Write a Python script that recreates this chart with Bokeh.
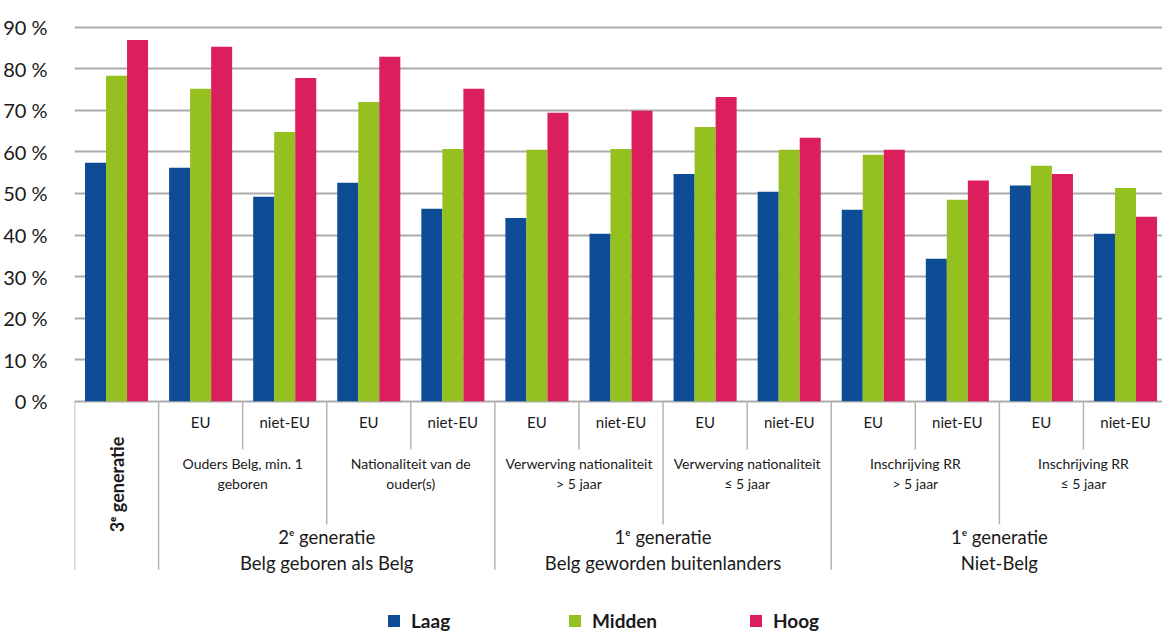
from math import pi
from bokeh.plotting import figure
from bokeh.models import Range1d, FixedTicker, Legend, LegendItem, ColumnDataSource
from bokeh.core.properties import value
from bokeh.embed import file_html
from bokeh.resources import INLINE

# ---- data ----
sub_labels = ["3ᵉ generatie", "EU", "niet-EU", "EU", "niet-EU", "EU", "niet-EU",
              "EU", "niet-EU", "EU", "niet-EU", "EU", "niet-EU"]
laag = [57.4, 56.2, 49.2, 52.6, 46.3, 44.1, 40.3, 54.7, 50.4, 46.1, 34.3, 51.9, 40.3]
midden = [78.3, 75.2, 64.8, 72.0, 60.7, 60.5, 60.7, 66.0, 60.5, 59.3, 48.5, 56.7, 51.3]
hoog = [86.9, 85.3, 77.8, 82.9, 75.2, 69.4, 69.9, 73.2, 63.4, 60.5, 53.1, 54.7, 44.4]
mid_line1 = ["Ouders Belg, min. 1", "Nationaliteit van de", "Verwerving nationaliteit",
             "Verwerving nationaliteit", "Inschrijving RR", "Inschrijving RR"]
mid_line2 = ["geboren", "ouder(s)", "> 5 jaar", "≤ 5 jaar", "> 5 jaar", "≤ 5 jaar"]
top_line1 = ["2ᵉ generatie", "1ᵉ generatie", "1ᵉ generatie"]
top_line2 = ["Belg geboren als Belg", "Belg geworden buitenlanders", "Niet-Belg"]
series_names = ["Laag", "Midden", "Hoog"]
y_ticks = [0, 10, 20, 30, 40, 50, 60, 70, 80, 90]
y_tick_labels = ["0 %", "10 %", "20 %", "30 %", "40 %", "50 %", "60 %", "70 %", "80 %", "90 %"]

colors = ["#0f4c96", "#94c11f", "#da1f5c"]
FONT = "Lato"
TXT = "#1a1a1a"

n = len(sub_labels)
xc = [i + 0.5 for i in range(n)]

p = figure(width=1162, height=634, output_backend="svg", toolbar_location=None,
           x_range=Range1d(0, 12.94), y_range=Range1d(-56.08, 96.42),
           x_axis_location=None, min_border_left=66, min_border_right=0,
           min_border_top=0, min_border_bottom=0)
p.outline_line_color = None
p.xgrid.visible = False
p.ygrid.ticker = FixedTicker(ticks=y_ticks)
p.ygrid.grid_line_color = "#ababab"
p.ygrid.grid_line_width = 1.8

ax = p.yaxis[0]
ax.ticker = FixedTicker(ticks=y_ticks)
ax.major_label_overrides = {t: l for t, l in zip(y_ticks, y_tick_labels)}
ax.axis_line_color = None
ax.major_tick_line_color = None
ax.minor_tick_line_color = None
ax.major_label_standoff = 21
ax.major_label_text_font = FONT
ax.major_label_text_font_size = "20px"
ax.major_label_text_color = TXT

src = ColumnDataSource(dict(x=xc, laag=laag, midden=midden, hoog=hoog))
renderers = []
for k, (col, c) in enumerate(zip(["laag", "midden", "hoog"], colors)):
    off = (k - 1) * 0.25
    xs = [x + off for x in xc]
    s = ColumnDataSource(dict(x=xs, top=src.data[col]))
    r = p.vbar(x="x", top="top", bottom=0, width=0.25, source=s,
               fill_color=c, line_color=None)
    renderers.append(r)

# separators
sep_x, sep_y1 = [], []
for b in range(n):
    if b in (0, 1, 5, 9):
        y1 = -40.5
    elif b in (3, 7, 11):
        y1 = -29.6
    else:
        y1 = -11.6
    sep_x.append(b)
    sep_y1.append(y1)
p.segment(x0=sep_x, y0=[0] * len(sep_x), x1=sep_x, y1=sep_y1,
          line_color="#b3b3b3", line_width=1.5)

# level 3 labels (EU / niet-EU)
p.text(x=xc[1:], y=[-4.9] * (n - 1), text=sub_labels[1:], text_align="center",
       text_baseline="middle", text_font=value(FONT), text_font_size="15px",
       text_color=TXT)
# rotated first category
p.text(x=[xc[0]], y=[-20.0], text=[sub_labels[0]], angle=pi / 2,
       text_align="center", text_baseline="middle", text_font=value(FONT),
       text_font_size="18px", text_font_style="bold", text_color=TXT)

# level 2 labels
mid_x = [2 + 2 * j for j in range(len(mid_line1))]
p.text(x=mid_x, y=[-15.0] * len(mid_x), text=mid_line1, text_align="center",
       text_baseline="middle", text_font=value(FONT), text_font_size="14px",
       text_color=TXT)
p.text(x=mid_x, y=[-19.8] * len(mid_x), text=mid_line2, text_align="center",
       text_baseline="middle", text_font=value(FONT), text_font_size="14px",
       text_color=TXT)

# level 1 labels
top_x = [3 + 4 * j for j in range(len(top_line1))]
p.text(x=top_x, y=[-32.6] * len(top_x), text=top_line1, text_align="center",
       text_baseline="middle", text_font=value(FONT), text_font_size="18.5px",
       text_color=TXT)
p.text(x=top_x, y=[-38.8] * len(top_x), text=top_line2, text_align="center",
       text_baseline="middle", text_font=value(FONT), text_font_size="18.5px",
       text_color=TXT)

legend = Legend(items=[LegendItem(label=nm, renderers=[r]) for nm, r in zip(series_names, renderers)],
                location=(312, 2), orientation="horizontal")
legend.border_line_color = None
legend.background_fill_alpha = 0
legend.padding = 0
legend.margin = 0
legend.spacing = 0
legend.glyph_width = 15
legend.glyph_height = 15
legend.label_standoff = 10
legend.label_width = 156
legend.label_text_font = FONT
legend.label_text_font_size = "19px"
legend.label_text_font_style = "bold"
legend.label_text_color = TXT
p.add_layout(legend)

open("out.html", "w").write(file_html(p, INLINE))
